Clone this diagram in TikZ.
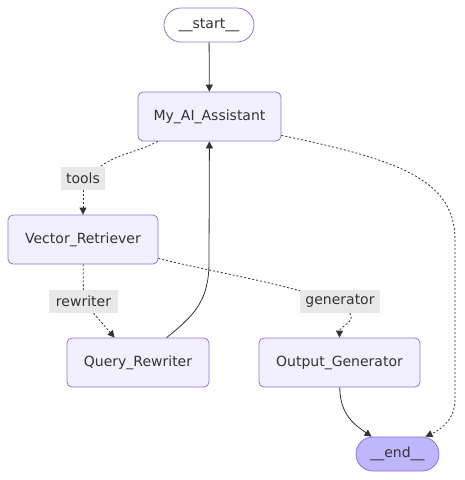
\documentclass[tikz,border=0pt]{standalone}
\usepackage{fontspec}
\setmainfont{DejaVu Sans}
\usetikzlibrary{arrows.meta}
\definecolor{boxfill}{HTML}{F2F0FF}
\definecolor{boxline}{HTML}{9370DB}
\definecolor{endfill}{HTML}{BFB6FC}
\definecolor{ink}{HTML}{333333}
\definecolor{tagfill}{HTML}{E8E8E8}

\begin{document}
\begin{tikzpicture}[x=1pt, y=-1pt,
        every node/.style={font=\fontsize{14}{16}\selectfont, text=ink},
        graphbox/.style={draw=boxline, fill=boxfill, line width=0.8pt, rounded corners=5pt, minimum height=49pt, inner sep=0pt},
        terminal/.style={draw=boxline, line width=0.8pt, rounded corners=17pt, minimum height=34pt, inner sep=0pt},
        edgetag/.style={fill=tagfill, inner sep=0pt, minimum height=23pt},
        flow/.style={draw=ink, line width=0.8pt, -{Triangle[length=7pt,width=7pt]}},
        cond/.style={flow, dash pattern=on 2pt off 2pt}]
        \useasboundingbox (0,0) rectangle (464,480);

        \node[terminal, fill=white, minimum width=90pt] (start) at (209,25) {\_\_start\_\_};
        \node[graphbox, minimum width=143pt] (assistant) at (209.5,116.5) {My\_AI\_Assistant};
        \node[graphbox, minimum width=150pt] (retriever) at (83,239.5) {Vector\_Retriever};
        \node[graphbox, minimum width=142pt] (rewriter) at (138,362.5) {Query\_Rewriter};
        \node[graphbox, minimum width=161pt] (generator) at (339.5,362.5) {Output\_Generator};
        \node[terminal, fill=endfill, minimum width=83pt] (end) at (397.5,454) {\_\_end\_\_};

        \node[edgetag, minimum width=44pt] (tools) at (83,178.5) {tools};
        \node[edgetag, minimum width=69pt] (torewrite) at (83.5,301.5) {rewriter};
        \node[edgetag, minimum width=80pt] (togenerate) at (340,301.5) {generator};

        \coordinate (righttop) at (455,240);
        \coordinate (rightlow) at (455,400);
        \coordinate (backup) at (209,262);

        \draw[flow] (start) -- (assistant);

        \draw[cond, -] ([xshift=20pt]assistant.south west) to[out=-152, in=35] (tools);
        \draw[cond] (tools) -- (retriever);

        \draw[cond, -] (retriever) -- (torewrite);
        \draw[cond] (torewrite) -- ([xshift=48pt]rewriter.north west);

        \draw[cond, -] ([yshift=6pt]retriever.south east) to[out=-14, in=165] (togenerate);
        \draw[cond] (togenerate) to[out=-50, in=90] (generator);

        \draw[cond] ([yshift=6pt]assistant.south east) .. controls (400,160) and (455,180) .. (righttop) -- (rightlow) .. controls (455,420) and (440,430) .. ([xshift=-14pt]end.north east);

        \draw[flow] ([xshift=100pt]rewriter.north west) .. controls (195,315) and (209,300) .. (backup) -- (assistant);

        \draw[flow] (generator) .. controls (340,415) and (355,425) .. ([xshift=16pt]end.north west);
    \end{tikzpicture}
\end{document}
